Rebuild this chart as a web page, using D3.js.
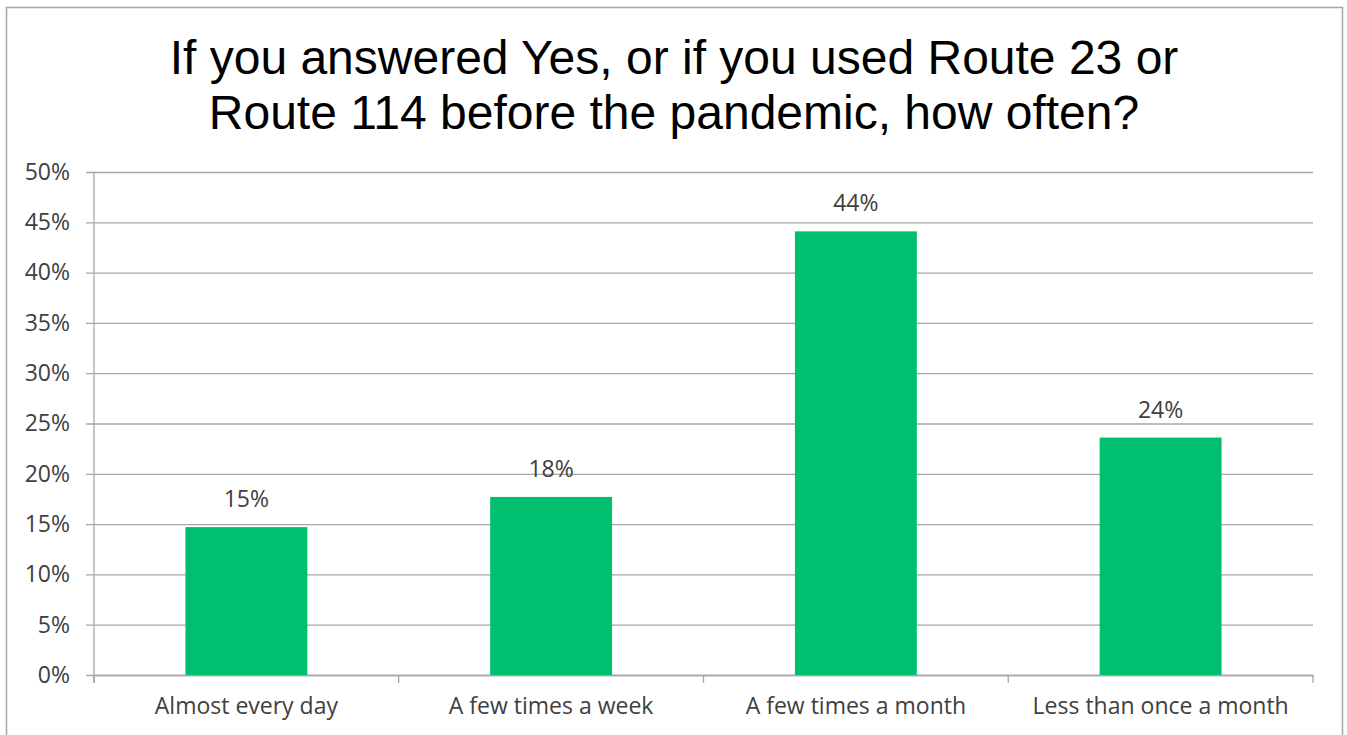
<!DOCTYPE html>
<html>
<head>
<meta charset="utf-8">
<script src="https://cdn.jsdelivr.net/npm/d3@7"></script>
<style>
  html, body { margin: 0; padding: 0; background: #fff; }
  svg { display: block; }
</style>
</head>
<body>
<svg id="chart" width="1347" height="735"></svg>
<script>
// Survey responses: frequency of use of Route 23 / Route 114
const categories = ["Almost every day", "A few times a week", "A few times a month", "Less than once a month"];
const shares = [0.147, 0.177, 0.441, 0.236];
const yTicks = [0, 0.05, 0.10, 0.15, 0.20, 0.25, 0.30, 0.35, 0.40, 0.45, 0.50];
const titleLines = ["If you answered Yes, or if you used Route 23 or", "Route 114 before the pandemic, how often?"];

const svg = d3.select("#chart");
const W = 1347, H = 735;
const margin = { left: 94, right: 34, top: 172, bottom: 60 };
const plotW = W - margin.left - margin.right;
const plotH = H - margin.top - margin.bottom;
const labelFont = "'Open Sans', Lato, sans-serif";
const labelSize = 23;

// outer frame
svg.append("rect")
  .attr("x", 6.5).attr("y", 7.5)
  .attr("width", 1336).attr("height", 740)
  .attr("fill", "#fff").attr("stroke", "#a6a6a6").attr("stroke-width", 1.5);

// title
svg.append("g").selectAll("text").data(titleLines).join("text")
  .attr("x", 674).attr("y", (d, i) => 74 + i * 55)
  .attr("text-anchor", "middle")
  .attr("font-family", "'Liberation Sans', Arial, sans-serif")
  .attr("font-size", 48)
  .attr("fill", "#000")
  .text(d => d);

const g = svg.append("g").attr("transform", `translate(${margin.left},${margin.top})`);

const x = d3.scaleBand().domain(categories).range([0, plotW]).paddingInner(0.6).paddingOuter(0.3);
const xBand = d3.scaleBand().domain(categories).range([0, plotW]);
const y = d3.scaleLinear().domain([0, 0.5]).range([plotH, 0]);

// horizontal gridlines with outward tick marks
const yAxis = d3.axisLeft(y).tickValues(yTicks).tickFormat(d3.format(".0%"))
  .tickSize(-plotW).tickSizeOuter(0).tickPadding(24);
const yG = g.append("g").call(yAxis);
yG.select(".domain").remove();
yG.selectAll(".tick line").attr("x1", -8).attr("stroke", "#a6a6a6").attr("stroke-width", 1.3);
yG.selectAll(".tick text")
  .attr("font-family", labelFont).attr("font-size", labelSize).attr("fill", "#404040");

// vertical axis line
g.append("line")
  .attr("x1", 0).attr("x2", 0).attr("y1", 0).attr("y2", plotH + 8)
  .attr("stroke", "#a6a6a6").attr("stroke-width", 1.3);

// category axis
const xAxis = d3.axisBottom(xBand).tickSize(0).tickPadding(23);
const xG = g.append("g").attr("transform", `translate(0,${plotH})`).call(xAxis);
xG.select(".domain").attr("stroke", "#a6a6a6").attr("stroke-width", 1.3);
xG.selectAll(".tick text")
  .attr("font-family", labelFont).attr("font-size", labelSize).attr("fill", "#404040");

// category dividers below axis
g.append("g").selectAll("line").data(categories.concat(["end"])).join("line")
  .attr("x1", (d, i) => i * xBand.step()).attr("x2", (d, i) => i * xBand.step())
  .attr("y1", plotH).attr("y2", plotH + 8)
  .attr("stroke", "#a6a6a6").attr("stroke-width", 1.3);

// bars
g.append("g").selectAll("rect").data(categories).join("rect")
  .attr("x", d => x(d))
  .attr("width", x.bandwidth())
  .attr("y", (d, i) => y(shares[i]))
  .attr("height", (d, i) => plotH - y(shares[i]))
  .attr("fill", "#00bf6f");

// value labels
g.append("g").selectAll("text").data(categories).join("text")
  .attr("x", d => x(d) + x.bandwidth() / 2)
  .attr("y", (d, i) => y(shares[i]) - 20)
  .attr("text-anchor", "middle")
  .attr("font-family", labelFont).attr("font-size", labelSize).attr("fill", "#404040")
  .text((d, i) => d3.format(".0%")(shares[i]));
</script>
</body>
</html>
